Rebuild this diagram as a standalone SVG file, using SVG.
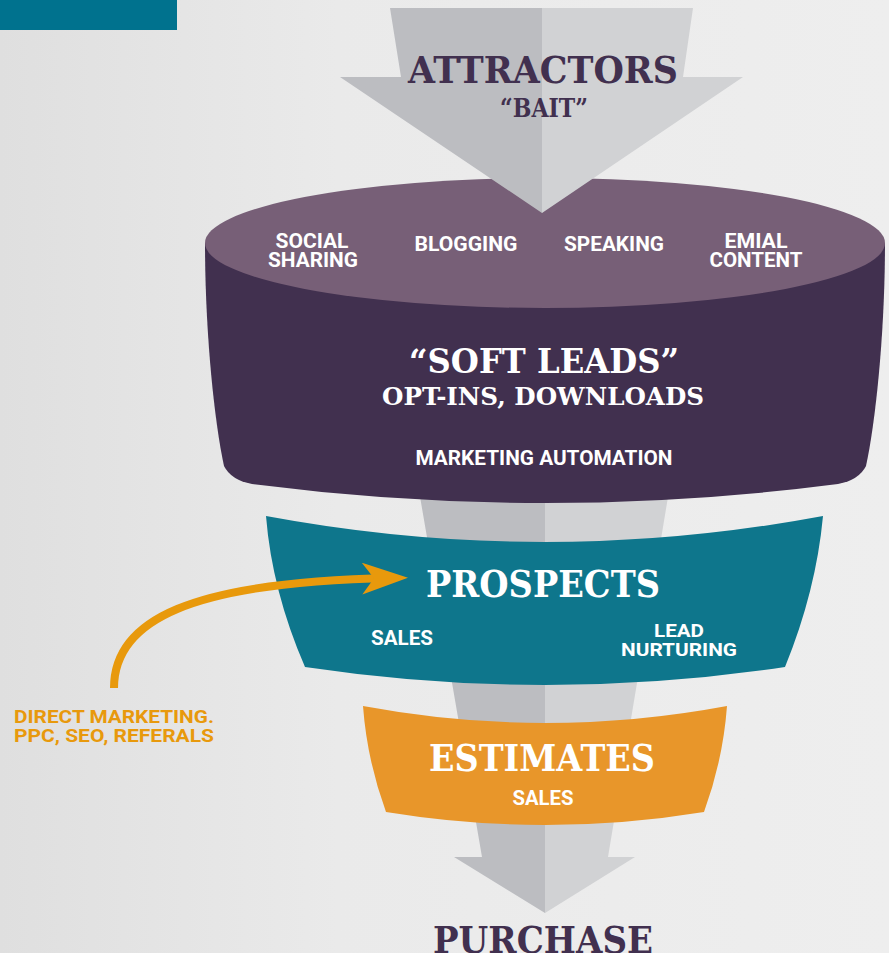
<svg xmlns="http://www.w3.org/2000/svg" width="889" height="953" viewBox="0 0 889 953">
  <defs>
    <linearGradient id="bg" x1="0" y1="0" x2="889" y2="0" gradientUnits="userSpaceOnUse">
      <stop offset="0" stop-color="#dfdfdf"/>
      <stop offset="0.38" stop-color="#eaeaea"/>
      <stop offset="1" stop-color="#eeeeee"/>
    </linearGradient>
    <marker id="chev" viewBox="0 0 46 32" refX="30" refY="16" markerWidth="46" markerHeight="32" markerUnits="userSpaceOnUse" orient="auto">
      <path d="M0 0 L46 16 L0 32 L12 16 Z" fill="#e8990c"/>
    </marker>
    <style>
      .slab { font-family: "DejaVu Serif", "Liberation Serif", serif; text-anchor: middle; }
      .sans { font-family: Roboto, "Liberation Sans", sans-serif; font-weight: 700; text-anchor: middle; }
      .plum { fill: #41304f; }
      .white { fill: #ffffff; }
      .greyL { fill: #bcbdc1; }
      .greyR { fill: #d1d2d4; }
    </style>
  </defs>

  <!-- backdrop -->
  <rect width="889" height="953" fill="url(#bg)"/>
  <rect x="0" y="0" width="177" height="30" fill="#00728e"/>

  <!-- lower arrow running through the funnel -->
  <g id="funnel-shaft">
    <polygon class="greyL" points="418,485 545,485 545,913 454,857 482,857"/>
    <polygon class="greyR" points="545,485 670,485 608,857 635,857 545,913"/>
  </g>

  <!-- soft leads cylinder -->
  <g id="soft-leads">
    <path fill="#41304f" d="M205 243 C205 330 214 420 224 466 Q231 480 252 484 Q545 522 838 484 Q859 480 866 466 C876 420 885 330 885 243 Z"/>
    <ellipse cx="545" cy="243" rx="340" ry="65" fill="#775f77"/>
    <text class="slab white" x="544" y="373" font-size="33" font-weight="700" textLength="270" lengthAdjust="spacingAndGlyphs">“SOFT LEADS”</text>
    <text class="slab white" x="543" y="405" font-size="24" font-weight="700" textLength="322" lengthAdjust="spacingAndGlyphs">OPT-INS, DOWNLOADS</text>
    <text class="sans white" x="544" y="465" font-size="21" textLength="257" lengthAdjust="spacingAndGlyphs">MARKETING AUTOMATION</text>
  </g>

  <!-- attractors arrow -->
  <g id="attractors">
    <polygon class="greyL" points="390,8 542,8 542,213 340,77 401,77"/>
    <polygon class="greyR" points="542,8 693,8 683,77 743,77 542,213"/>
    <text class="slab plum" x="543" y="83" font-size="38" font-weight="700" textLength="270" lengthAdjust="spacingAndGlyphs">ATTRACTORS</text>
    <text class="slab plum" x="544" y="117" font-size="26" font-weight="700" textLength="88" lengthAdjust="spacingAndGlyphs">“BAIT”</text>
  </g>

  <!-- attractor channels on the cylinder top -->
  <g id="channels">
    <text class="sans white" x="312" y="248" font-size="20" textLength="73" lengthAdjust="spacingAndGlyphs">SOCIAL</text>
    <text class="sans white" x="313" y="267" font-size="20" textLength="90" lengthAdjust="spacingAndGlyphs">SHARING</text>
    <text class="sans white" x="466" y="251" font-size="20" textLength="103" lengthAdjust="spacingAndGlyphs">BLOGGING</text>
    <text class="sans white" x="614" y="251" font-size="20" textLength="100" lengthAdjust="spacingAndGlyphs">SPEAKING</text>
    <text class="sans white" x="756" y="248" font-size="20" textLength="63" lengthAdjust="spacingAndGlyphs">EMIAL</text>
    <text class="sans white" x="756" y="267" font-size="20" textLength="93" lengthAdjust="spacingAndGlyphs">CONTENT</text>
  </g>

  <!-- prospects band -->
  <g id="prospects">
    <path fill="#0e768c" d="M266 516 Q545 568 823 516 Q816 591 785 667 Q545 703 305 667 Q272 591 266 516 Z"/>
    <text class="slab white" x="543" y="597" font-size="37" font-weight="700" textLength="234" lengthAdjust="spacingAndGlyphs">PROSPECTS</text>
    <text class="sans white" x="402" y="645" font-size="20" textLength="62" lengthAdjust="spacingAndGlyphs">SALES</text>
    <text class="sans white" x="679" y="637" font-size="19" textLength="50" lengthAdjust="spacingAndGlyphs">LEAD</text>
    <text class="sans white" x="679" y="656" font-size="19" textLength="116" lengthAdjust="spacingAndGlyphs">NURTURING</text>
  </g>

  <!-- estimates band -->
  <g id="estimates">
    <path fill="#e8962a" d="M363 706 Q545 740 727 706 Q723 760 704 812 Q545 838 386 812 Q367 760 363 706 Z"/>
    <text class="slab white" x="542" y="771" font-size="37" font-weight="700" textLength="226" lengthAdjust="spacingAndGlyphs">ESTIMATES</text>
    <text class="sans white" x="543" y="805" font-size="20" textLength="61" lengthAdjust="spacingAndGlyphs">SALES</text>
  </g>

  <!-- purchase label -->
  <g id="purchase">
    <text class="slab plum" x="543" y="953" font-size="38" font-weight="700" textLength="220" lengthAdjust="spacingAndGlyphs">PURCHASE</text>
  </g>

  <!-- direct marketing source -->
  <g id="direct-marketing">
    <text x="14" y="723" font-family="Roboto, 'Liberation Sans', sans-serif" font-weight="700" font-size="19" fill="#e8990c" textLength="200" lengthAdjust="spacingAndGlyphs">DIRECT MARKETING.</text>
    <text x="14" y="742" font-family="Roboto, 'Liberation Sans', sans-serif" font-weight="700" font-size="19" fill="#e8990c" textLength="200" lengthAdjust="spacingAndGlyphs">PPC, SEO, REFERALS</text>
  </g>

  <!-- connectors -->
  <g id="connectors">
    <path d="M114 688 C114 620 190 582 392 578" fill="none" stroke="#e8990c" stroke-width="8" marker-end="url(#chev)"/>
  </g>
</svg>
